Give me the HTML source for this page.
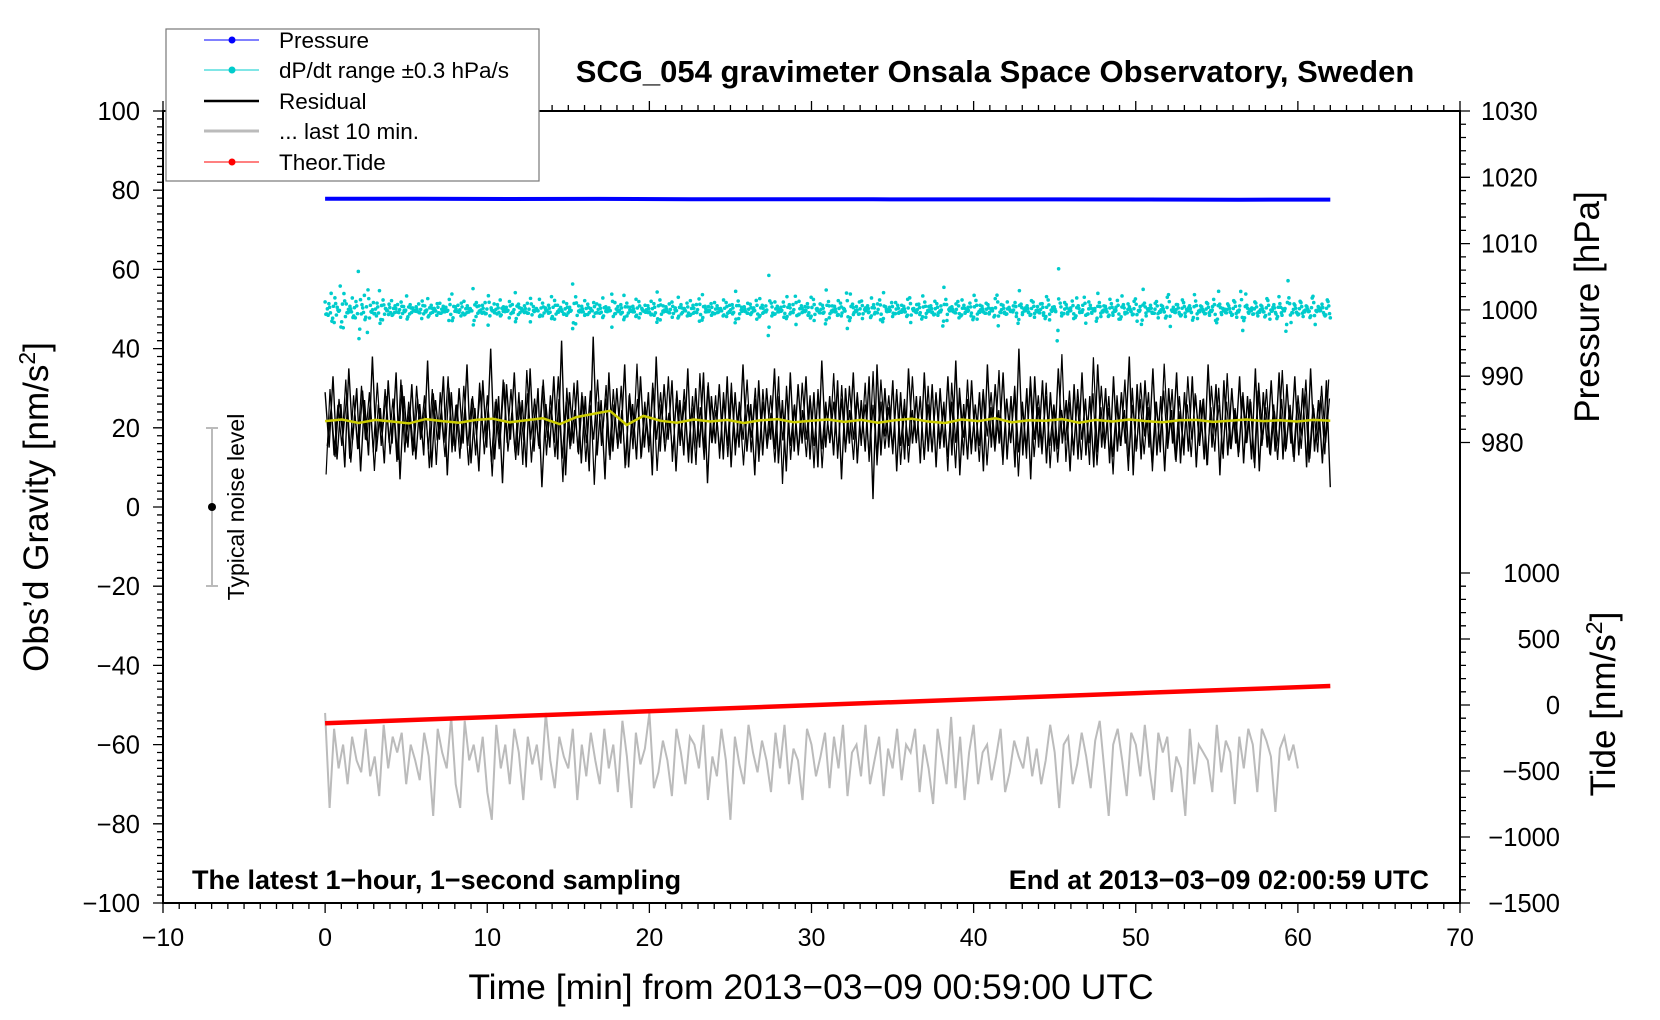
<!DOCTYPE html>
<html><head><meta charset="utf-8"><style>
html,body{margin:0;padding:0;background:#fff;}
svg{display:block;font-family:"Liberation Sans",Arial,sans-serif;}
</style></head><body>
<svg id="chart" width="1660" height="1020" viewBox="0 0 1660 1020" xmlns="http://www.w3.org/2000/svg">
<g id="axes"></g>
<g id="marks"></g>
<text x="995" y="82" font-size="31" font-weight="bold" text-anchor="middle">SCG_054 gravimeter Onsala Space Observatory, Sweden</text>
<text transform="translate(48,507) rotate(-90)" font-size="35" text-anchor="middle">Obs’d Gravity [nm/s<tspan dy="-13" font-size="23">2</tspan><tspan dy="13">]</tspan></text>
<text transform="translate(1599,307) rotate(-90)" font-size="35" text-anchor="middle">Pressure [hPa]</text>
<text transform="translate(1615,704) rotate(-90)" font-size="35" text-anchor="middle">Tide [nm/s<tspan dy="-13" font-size="23">2</tspan><tspan dy="13">]</tspan></text>
<text x="811" y="999" font-size="35.5" text-anchor="middle">Time [min] from 2013−03−09 00:59:00 UTC</text>
<text x="192" y="889" font-size="27" font-weight="bold">The latest 1−hour, 1−second sampling</text>
<text x="1429" y="889" font-size="27" font-weight="bold" text-anchor="end">End at 2013−03−09 02:00:59 UTC</text>
<g>
<line x1="212" y1="428" x2="212" y2="586" stroke="#bbb" stroke-width="2"/>
<line x1="206" y1="428" x2="218" y2="428" stroke="#bbb" stroke-width="2"/>
<line x1="206" y1="586" x2="218" y2="586" stroke="#bbb" stroke-width="2"/>
<circle cx="212" cy="507" r="4" fill="#000"/>
<text transform="translate(244,507) rotate(-90)" font-size="23" text-anchor="middle">Typical noise level</text>
</g>
<g>
<rect x="166" y="29" width="373" height="152" fill="#fff" stroke="#777" stroke-width="1.2"/>
<g><line x1="204" y1="40" x2="259" y2="40" stroke="#00f" stroke-width="1"/><circle cx="232" cy="40" r="3.5" fill="#00f"/><text x="279" y="48" font-size="22.5">Pressure</text></g>
<g><line x1="204" y1="70" x2="259" y2="70" stroke="#0cc" stroke-width="1"/><circle cx="232" cy="70" r="3.5" fill="#0cc"/><text x="279" y="78" font-size="22.5">dP/dt range ±0.3 hPa/s</text></g>
<g><line x1="204" y1="101" x2="259" y2="101" stroke="#000" stroke-width="2.5"/><text x="279" y="109" font-size="22.5">Residual</text></g>
<g><line x1="204" y1="131" x2="259" y2="131" stroke="#bbb" stroke-width="3"/><text x="279" y="139" font-size="22.5">... last 10 min.</text></g>
<g><line x1="204" y1="162" x2="259" y2="162" stroke="#f00" stroke-width="1"/><circle cx="232" cy="162" r="3.5" fill="#f00"/><text x="279" y="170" font-size="22.5">Theor.Tide</text></g>
</g>
</svg>
<script>
// ---- data ----
const xTicks = [-10,0,10,20,30,40,50,60,70];
const gravTicks = [100,80,60,40,20,0,-20,-40,-60,-80,-100];
const pressTicks = [1030,1020,1010,1000,990,980];
const tideTicks = [1000,500,0,-500,-1000,-1500];
const pressureVals = [1016.75,1016.75,1016.72,1016.74,1016.7,1016.7,1016.68,1016.66,1016.66,1016.65,1016.62,1016.63];
const tideStartEnd = [-138,144];
const dpdtDev = [1.2,-0.8,2.5,-1.9,0.4,3.6,-2.7,0.9,-0.3,1.8,-1.2,5.8,-0.6,2.2,-3.4,0.7,1.1,-0.9,2.9,-1.5,0.2,-0.7,1.4,-0.4,0.8,-1.1,0.5,2.1,-0.6,0.3,-0.2,0.9,-1.3,0.6,1.7,-0.5,0.1,-0.8,1.0,-0.3,0.4,-1.6,2.4,-0.2,0.7,-0.9,1.3,-0.4,0.2,3.2,-1.0,0.6,-0.5,1.1,-2.3,0.3,0.9,-0.6,1.5,-0.2,0.4,-1.2,0.8,2.6,-0.7,0.1,-0.4,1.0,-1.8,0.5,0.2,1.6,-0.9,0.3,-0.5,2.0,-1.4,0.7,-0.1,1.2,-0.8,0.4,3.9,-2.1,0.6,-0.3,1.4,-0.7,0.2,-1.0,0.9,-0.5,1.8,-0.2,0.3,-2.6,1.1,0.5,-0.6,2.2,-0.9,0.4,-0.3,1.6,-1.2,0.1,0.7,-0.4,1.3,-0.8,2.7,-1.5,0.6,-0.2,0.9,-1.1,0.3,1.9,-0.6,0.2,-0.9,1.4,-0.5,0.8,-1.7,2.3,-0.3,0.5,-0.8,1.1,-0.4,0.2,1.5,-1.0,0.7,-0.6,2.8,-1.3,0.4,-0.2,1.0,-0.7,0.3,-1.4,1.7,-0.5,0.6,5.2,-0.9,1.2,-0.3,0.4,-1.1,2.0,-0.6,0.8,-2.2,1.3,-0.4,0.5,-0.8,1.9,-1.6,0.2,0.9,-0.5,3.0,-1.2,0.6,-0.3,1.4,-0.9,0.1,-2.8,2.4,-0.7,0.5,1.2,-1.3,0.3,-0.4,1.8,-0.6,0.9,-1.5,2.6,-0.2,0.4,-1.0,1.1,-0.5,0.7,-0.3,1.6,-1.9,0.2,0.8,-0.7,2.1,-1.1,0.5,-0.4,1.3,-0.8,0.6,3.4,-1.6,0.3,-0.2,0.9,-1.2,1.5,-0.5,0.4,-0.9,2.2,-1.4,0.7,-0.3,1.0,-0.6,0.2,1.7,-2.4,0.8,-0.5,1.2,-0.1,0.6,-1.0,2.9,-0.7,0.3,-0.4,1.4,-1.1,0.5,0.9,-0.8,2.0,-1.5,0.4,-0.2,6.2,-0.9,1.1,-0.6,0.3,-1.3,1.8,-0.4,0.7,-2.0,1.2,-0.5,0.2,2.5,-1.0,0.6,-0.3,1.6,-0.8,0.4,-1.4,2.1,-0.6,0.9,-0.2,1.3,-1.7,0.5,3.1,-0.9,0.2,-0.5,1.0,-1.2,0.7,-0.3,1.9,-2.5,0.4,0.8,-0.6,1.5,-1.0,0.3,-0.4,2.3,-1.3,0.6,-0.2,1.1,-0.8,0.5,-1.6,2.8,-0.7,0.1,0.9,-0.4,1.4,-1.1,0.6,-3.1,2.4,-0.5,0.3,1.2,-0.9,0.7,-0.3,1.7,-1.4,0.4,-0.6,2.0,-0.8,0.2,4.4,-1.9,0.9,-0.5,1.3,-1.0,0.6,-0.2,1.8,-2.2,0.5,0.3,-0.7,1.5,-1.2];
const residualDev = [8,-6,12,-9,5,-11,14,-4,9,-12,6,-8,17,-7,4,-10,11,-5,13,-14,7,-6,10,-9,5,-8,16,-11,6,-4,12,-13,8,-7,9,-5,15,-10,4,-12,11,-6,19,-9,7,-15,10,-4,13,-8,6,-11,14,-7,9,-16,5,-6,12,-9,21,-13,8,-5,11,-10,7,-12,22,-8,6,-14,13,-7,9,-5,15,-11,5,-9,12,-6,8,-13,17,-7,10,-4,11,-12,6,-8,14,-10,9,-6,13,-15,7,-5,10,-9,12,-11,8,-6,15,-7,5,-13,11,-8,9,-4,14,-10,6,-12,13,-7,10,-5,12,-9,8,-11,16,-6,7,-8,11,-14,9,-5,13,-10,6,-7,12,-19,15,-8,9,-6,11,-12,8,-9,14,-5,7,-10,13,-7,10,-11,9,-6,12,-8,16,-13,5,-9,11,-7,8,-12,15,-6,10,-5,13,-9,7,-11,19,-8,9,-14,12,-6,11,-10,8,-7,14,-5,6,-12,10,-9,13,-8,7,-11,15,-6,9,-10,12,-7,8,-5,17,-13,10,-9,11,-6,14,-8,7,-12,9,-5,13,-10,8,-7,12,-11,6,-9,15,-6,10,-13,11,-8,9,-5,12,-10,7,-9,14,-12,8,-6,11,-7,13,-9,10,-5,12,-8,9,-11,14,-7,6,-10,11,-16];
const smoothDev = [0.2,0.6,-0.3,0.5,0.1,-0.4,0.7,0.2,-0.2,0.5,0.8,-0.1,0.4,0.9,-0.6,1.2,2.0,2.8,-0.8,1.5,0.3,-0.2,0.6,0.1,0.5,-0.3,0.4,0.7,-0.1,0.3,0.6,0.0,0.5,-0.2,0.4,0.8,0.1,-0.3,0.6,0.2,0.9,-0.1,0.4,0.3,0.7,-0.2,0.5,0.1,0.6,0.2,-0.1,0.4,0.5,0.0,0.3,0.6,0.2,0.4,0.1,0.5,0.3];
const lastTenVals = [-52,-76,-56,-66,-60,-70,-58,-64,-67,-56,-68,-63,-73,-55,-66,-58,-62,-57,-70,-60,-64,-69,-57,-63,-78,-56,-62,-66,-53,-70,-76,-54,-64,-60,-67,-58,-72,-79,-55,-66,-60,-70,-56,-62,-74,-58,-65,-60,-69,-52,-64,-71,-58,-63,-66,-56,-74,-60,-68,-57,-64,-70,-56,-66,-60,-72,-54,-63,-76,-57,-65,-61,-52,-71,-67,-59,-64,-73,-56,-62,-70,-58,-60,-66,-55,-74,-63,-68,-56,-64,-79,-58,-65,-70,-55,-62,-67,-59,-64,-72,-57,-66,-55,-70,-61,-64,-74,-56,-60,-68,-63,-57,-71,-58,-66,-55,-73,-62,-60,-68,-55,-70,-64,-58,-73,-61,-66,-56,-69,-60,-62,-56,-72,-60,-66,-75,-56,-63,-70,-53,-71,-58,-74,-62,-55,-70,-62,-60,-69,-63,-56,-72,-67,-59,-63,-66,-58,-68,-61,-70,-64,-55,-62,-76,-60,-58,-70,-65,-57,-63,-71,-59,-54,-66,-78,-60,-56,-64,-73,-57,-60,-68,-55,-66,-74,-57,-62,-58,-72,-63,-66,-78,-56,-70,-60,-62,-64,-72,-55,-67,-59,-62,-75,-58,-66,-56,-60,-72,-56,-59,-63,-77,-61,-58,-64,-60,-66];

// ---- scales ----
const L=163,R=1460,T=111,B=903;
const xS=v=>L+(v+10)/80*(R-L);
const gY=v=>T+(100-v)/200*(B-T);
const pY=v=>T+(1030-v)*6.63;
const tY=v=>573+(1000-v)*0.132;
const NS='http://www.w3.org/2000/svg';
function mk(tag,attrs,parent){const e=document.createElementNS(NS,tag);for(const k in attrs)e.setAttribute(k,attrs[k]);parent.appendChild(e);return e;}
const axes=document.getElementById('axes'), marks=document.getElementById('marks');

const frame=mk('rect',{x:L,y:T,width:R-L,height:B-T,fill:'none',stroke:'#000','stroke-width':2},axes);


let tk='';
for(let m=-10;m<=70;m++){const x=xS(m);const len=m%10===0?10:6;tk+=`M${x},${B}v${len}M${x},${T}v${-len}`;}
for(let g=-100;g<=100;g+=2){const y=gY(g);tk+=`M${L},${y}h${g%20===0?-10:-6}`;}
for(let p=980;p<=1030;p+=2){const y=pY(p);tk+=`M${R},${y}h${p%10===0?10:6}`;}
for(let t=-1500;t<=1000;t+=100){const y=tY(t);tk+=`M${R},${y}h${t%500===0?10:6}`;}
const ticks=mk('path',{d:tk,stroke:'#000','stroke-width':1.3,fill:'none'},axes);


xTicks.forEach(v=>{const t=mk('text',{x:xS(v),y:946,'font-size':25,'text-anchor':'middle'},axes);t.textContent=String(v).replace('-','−');

});
gravTicks.forEach(v=>{const t=mk('text',{x:140,y:gY(v)+9,'font-size':25.5,'text-anchor':'end'},axes);t.textContent=String(v).replace('-','−');

});
pressTicks.forEach(v=>{const t=mk('text',{x:1481,y:pY(v)+9,'font-size':25.5},axes);t.textContent=String(v);

});
tideTicks.forEach(v=>{const t=mk('text',{x:1560,y:tY(v)+9,'font-size':25.5,'text-anchor':'end'},axes);t.textContent=String(v).replace('-','−');

});

function pathFrom(vals,t0,t1,yf){let d='';vals.forEach((v,i)=>{const x=xS(t0+i*(t1-t0)/(vals.length-1));d+=(i?'L':'M')+x.toFixed(1)+','+yf(v).toFixed(1);});return d;}

const pl=mk('path',{d:pathFrom(pressureVals,0,62,pY),stroke:'#00f','stroke-width':4,fill:'none'},marks);


const cg=mk('g',{fill:'#0cc'},marks);


dpdtDev.forEach((v,i)=>{mk('circle',{cx:xS(i*62/(dpdtDev.length-1)),cy:pY(1000+v),r:1.8},cg);});
dpdtDev.forEach((v,i)=>{mk('circle',{cx:xS((i+0.5)*62/(dpdtDev.length)),cy:pY(1000-v*0.5),r:1.8},cg);});
dpdtDev.forEach((v,i)=>{mk('circle',{cx:xS((i+0.25)*62/(dpdtDev.length)),cy:pY(1000-v*0.8+0.3),r:1.8},cg);});
dpdtDev.forEach((v,i)=>{mk('circle',{cx:xS((i+0.75)*62/(dpdtDev.length)),cy:pY(1000+v*0.3-0.2),r:1.8},cg);});
const rl=mk('path',{d:pathFrom(residualDev.map(v=>21+v),0,62,gY),stroke:'#000','stroke-width':1.4,fill:'none'},marks);


const rl2=mk('path',{d:pathFrom(residualDev.map(v=>21-v*0.7),0.13,61.9,gY),stroke:'#000','stroke-width':1.2,fill:'none'},marks);


const rl3=mk('path',{d:pathFrom(residualDev.slice().reverse().map(v=>21+v*0.8),0.06,61.95,gY),stroke:'#000','stroke-width':1.2,fill:'none'},marks);


const sl=mk('path',{d:pathFrom(smoothDev.map(v=>21.5+v),0,62,gY),stroke:'#cc0','stroke-width':2.5,fill:'none'},marks);


const gl=mk('path',{d:pathFrom(lastTenVals,0,60,gY),stroke:'#bbb','stroke-width':2,fill:'none'},marks);


const tl=mk('path',{d:pathFrom(tideStartEnd,0,62,tY),stroke:'#f00','stroke-width':4.5,fill:'none'},marks);


</script>
</body></html>
